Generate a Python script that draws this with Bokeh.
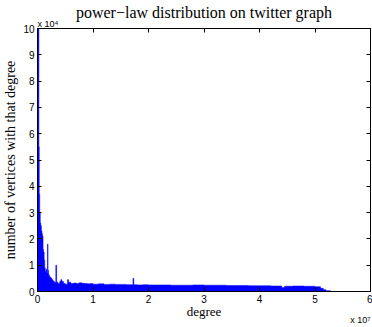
from bokeh.plotting import figure
from bokeh.models import Range1d, FixedTicker, LinearAxis, Title
from bokeh.embed import file_html
from bokeh.resources import INLINE
import numpy as np

# degree bin left edges (units of 1e7) and vertex counts (units of 1e4)
degree_edges = [0.0, 0.025, 0.032, 0.04, 0.05, 0.06, 0.07, 0.08, 0.09,
                0.10, 0.11, 0.12, 0.13, 0.14, 0.15, 0.16, 0.17, 0.18, 0.19, 0.20,
                0.21, 0.22, 0.24, 0.26, 0.28, 0.30, 0.33, 0.345, 0.37, 0.40, 0.42,
                0.44, 0.47, 0.50, 0.54, 0.56, 0.60, 0.65, 0.70, 0.75, 0.80, 0.85,
                0.90, 0.95, 1.00, 1.10, 1.20, 1.30, 1.40, 1.50, 1.60, 1.72, 1.735,
                1.80, 1.90, 2.00, 2.20, 2.40, 2.60, 2.80, 3.00, 3.20, 3.40, 3.60,
                3.80, 4.00, 4.20, 4.40, 4.45, 4.60, 4.80, 5.00, 5.10, 5.15, 5.20, 5.28]
vertex_counts = [12.0, 5.5, 3.7, 3.0, 2.6, 2.5, 2.3, 2.2, 2.1,
                 1.6, 1.5, 1.2, 0.9, 0.75, 0.8, 0.85, 0.7, 1.8, 0.8, 0.65,
                 0.6, 0.55, 0.5, 0.45, 0.4, 0.35, 1.0, 0.35, 0.3, 0.38, 0.45,
                 0.38, 0.3, 0.28, 0.45, 0.35, 0.3, 0.32, 0.3, 0.33, 0.31, 0.3,
                 0.29, 0.3, 0.28, 0.29, 0.27, 0.28, 0.27, 0.27, 0.26, 0.5, 0.26,
                 0.25, 0.26, 0.25, 0.25, 0.24, 0.24, 0.25, 0.24, 0.24, 0.23, 0.23,
                 0.22, 0.22, 0.21, 0.15, 0.2, 0.21, 0.2, 0.18, 0.12, 0.07, 0.03]

x_ticks = [0, 1, 2, 3, 4, 5, 6]
y_ticks = [0, 1, 2, 3, 4, 5, 6, 7, 8, 9, 10]

title_text = "power\u2212law distribution on twitter graph"
x_label = "degree"
y_label = "number of vertices with that degree"
x_mult = "x 10\u2077"
y_mult = "x 10\u2074"

# step outline of the histogram as one filled polygon
e = np.array(degree_edges)
c = np.array(vertex_counts)
px = np.concatenate([[e[0]], np.repeat(e[1:-1], 2), [e[-1]]])
py = np.repeat(c, 2)
px = np.concatenate([[e[0]], px, [e[-1]]])
py = np.concatenate([[0.0], py, [0.0]])

p = figure(width=372, height=327, output_backend="svg", toolbar_location=None,
           x_range=Range1d(0, 6), y_range=Range1d(0, 10),
           min_border_left=37, min_border_right=2, min_border_top=28, min_border_bottom=36,
           x_axis_location=None, y_axis_location=None)
p.background_fill_color = "white"
p.border_fill_color = "white"
p.outline_line_color = "black"
p.xgrid.visible = False
p.ygrid.visible = False

p.patch(px, py, fill_color="#0000ff", line_color="#0000ff", line_width=0.5)

def mk_axis(ticks, show_labels):
    ax = LinearAxis(ticker=FixedTicker(ticks=ticks))
    ax.major_tick_in = 4
    ax.major_tick_out = 0
    ax.minor_tick_line_color = None
    ax.axis_line_color = "black"
    ax.major_tick_line_color = "black"
    ax.major_label_text_font = "Liberation Sans"
    if show_labels:
        ax.major_label_text_font_size = "10px"
        ax.major_label_text_color = "black"
        ax.major_label_standoff = 3
    else:
        ax.major_label_text_font_size = "1px"
        ax.major_label_text_color = None
        ax.major_label_standoff = 0
    return ax

xb = mk_axis(x_ticks, True)
xb.axis_label = x_label
xb.axis_label_text_font = "Liberation Serif"
xb.axis_label_text_font_style = "normal"
xb.axis_label_text_font_size = "13px"
xb.axis_label_text_color = "black"
xb.axis_label_standoff = -2
yl = mk_axis(y_ticks, True)
yl.axis_label = y_label
yl.axis_label_text_font = "Liberation Serif"
yl.axis_label_text_font_style = "normal"
yl.axis_label_text_font_size = "14px"
yl.axis_label_text_color = "black"
yl.axis_label_standoff = 2

p.add_layout(xb, "below")
p.add_layout(yl, "left")
p.add_layout(mk_axis(x_ticks, False), "above")
p.add_layout(mk_axis(y_ticks, False), "right")

p.add_layout(Title(text=y_mult, align="left", text_font="Liberation Sans",
                   text_font_size="9px", text_font_style="normal", standoff=0,
                   text_color="black"), "above")
p.add_layout(Title(text=x_mult, align="right", vertical_align="top",
                   text_font="Liberation Sans", text_font_size="9px",
                   text_font_style="normal", standoff=-14,
                   text_color="black"), "below")

p.title.text = title_text
p.title.align = "center"
p.title.text_font = "Liberation Serif"
p.title.text_font_size = "16px"
p.title.text_font_style = "normal"
p.title.text_color = "black"
p.title.standoff = -9

open("out.html", "w").write(file_html(p, INLINE))
